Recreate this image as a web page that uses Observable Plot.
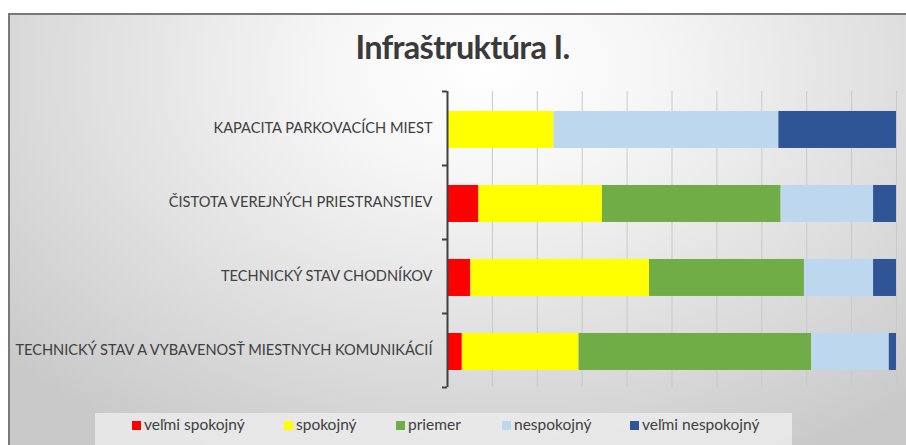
<!DOCTYPE html>
<html>
<head>
<meta charset="utf-8">
<script src="https://cdn.jsdelivr.net/npm/d3@7"></script>
<script src="https://cdn.jsdelivr.net/npm/@observablehq/plot@0.6"></script>
<style>
  html, body { margin: 0; padding: 0; background: #ffffff; }
  #wrap { position: relative; width: 906px; height: 445px; overflow: hidden; font-family: Lato, "Open Sans", sans-serif; }
  #frame { position: absolute; left: 8px; top: 13px; width: 920px; height: 460px; border: 2px solid #7a767a;
    background: radial-gradient(ellipse 70% 95% at 52% 12%, #ffffff 0%, #f6f6f6 25%, #dedede 65%, #c9c9c9 100%); }
  #title { position: absolute; left: 0; width: 925px; top: 27px; text-align: center; font-size: 32.5px; font-weight: bold; color: #3a3a3a; letter-spacing: -0.7px; }
  #chart { position: absolute; left: 0; top: 0; }
  #legend { position: absolute; left: 95px; top: 413px; width: 697px; height: 40px; background: rgba(235,235,235,0.85); }
  .item { position: absolute; top: 2px; font-size: 15.5px; color: #404040; white-space: nowrap; }
  .sw { display: inline-block; width: 9px; height: 9px; margin-right: 3px; vertical-align: 0px; }
</style>
</head>
<body>
<div id="wrap">
  <div id="frame"></div>
  <div id="title">Infraštruktúra I.</div>
  <div id="chart"></div>
  <div id="legend"></div>
</div>
<script>
const categories = [
  "KAPACITA PARKOVACÍCH MIEST",
  "ČISTOTA VEREJNÝCH PRIESTRANSTIEV",
  "TECHNICKÝ STAV CHODNÍKOV",
  "TECHNICKÝ STAV A VYBAVENOSŤ MIESTNYCH KOMUNIKÁCIÍ"
];
const seriesNames = ["veľmi spokojný", "spokojný", "priemer", "nespokojný", "veľmi nespokojný"];
const seriesColors = ["#ff0000", "#ffff00", "#70ad47", "#bdd7ee", "#2f5597"];
const velmiSpokojny   = [0,    7.0,  5.2,  3.3];
const spokojny        = [23.7, 27.5, 39.8, 26.0];
const priemer         = [0,    39.8, 34.5, 51.8];
const nespokojny      = [50.1, 20.6, 15.4, 17.3];
const velmiNespokojny = [26.2, 5.1,  5.1,  1.6];
const seriesValues = [velmiSpokojny, spokojny, priemer, nespokojny, velmiNespokojny];
const xTicks = [0, 10, 20, 30, 40, 50, 60, 70, 80, 90, 100];
const legendX = [132, 284, 396, 502, 630];

const rows = [];
categories.forEach((cat, i) => {
  let acc = 0;
  seriesNames.forEach((s, k) => {
    const v = seriesValues[k][i];
    rows.push({cat, i, series: s, x1: acc, x2: acc + v});
    acc += v;
  });
});

const chart = Plot.plot({
  width: 906,
  height: 445,
  marginTop: 91,
  marginBottom: 58,
  marginLeft: 447,
  marginRight: 10,
  style: {background: "transparent", fontFamily: "Lato, 'Open Sans', sans-serif", fontSize: "14.6px", color: "#404040"},
  x: {domain: [0, 100], axis: null},
  y: {domain: [0, 4], reverse: true},
  color: {domain: seriesNames, range: seriesColors},
  marks: [
    Plot.gridX(xTicks, {stroke: "#c9c9c9", strokeOpacity: 1, strokeWidth: 1}),
    Plot.rect(rows.filter(d => d.x2 > d.x1), {x1: "x1", x2: "x2", y1: d => d.i + 0.27, y2: d => d.i + 0.77, fill: "series"}),
    Plot.axisY(d3.range(categories.length + 1), {tickSize: 5, tickFormat: () => "", stroke: "#404040", strokeWidth: 2}),
    Plot.axisY(categories.map((c, i) => i + 0.5), {tickSize: 0, tickPadding: 15, tickFormat: v => categories[Math.floor(v)], fill: "#404040", fontSize: 14.6}),
    Plot.ruleX([0], {y1: 0, y2: categories.length, stroke: "#404040", strokeWidth: 2})
  ]
});
document.getElementById("chart").appendChild(chart);

const legend = document.getElementById("legend");
seriesNames.forEach((s, k) => {
  const el = document.createElement("div");
  el.className = "item";
  el.style.left = (legendX[k] - 95) + "px";
  el.innerHTML = `<span class="sw" style="background:${seriesColors[k]}"></span>${s}`;
  legend.appendChild(el);
});
</script>
</body>
</html>
